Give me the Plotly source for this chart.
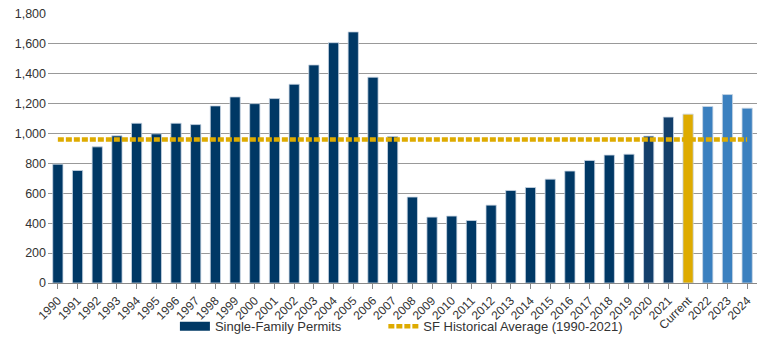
import plotly.graph_objects as go

categories = [str(y) for y in range(1990, 2022)] + ["Current", "2022", "2023", "2024"]
permits = [795, 753, 911, 985, 1069, 998, 1069, 1060, 1185, 1245,
           1200, 1234, 1330, 1459, 1608, 1680, 1377, 980, 575, 441,
           448, 418, 521, 619, 639, 695, 749, 820, 856, 862,
           983, 1110, 1130, 1181, 1261, 1170]
historical_average = 960

NAVY = "#003865"
NAVY2 = "#133f6b"
GOLD = "#deab00"
BLUE = "#3b80bf"

bar_colors = []
for c in categories:
    if c in ("2020", "2021"):
        bar_colors.append(NAVY2)
    elif c == "Current":
        bar_colors.append(GOLD)
    elif c in ("2022", "2023", "2024"):
        bar_colors.append(BLUE)
    else:
        bar_colors.append(NAVY)

fig = go.Figure()
fig.add_trace(go.Bar(
    x=categories, y=permits, marker=dict(color=bar_colors, line=dict(color="#c9d6e3", width=0.8)),
    width=0.52, showlegend=False, name="Single-Family Permits"))
# legend entry for bars
fig.add_trace(go.Scatter(
    x=[None], y=[None], mode="lines", line=dict(color=NAVY, width=9),
    name="Single-Family Permits", legend="legend"))
fig.add_trace(go.Scatter(
    x=[categories[0], categories[-1]], y=[historical_average, historical_average],
    mode="lines", line=dict(color=GOLD, width=4.5, dash="6px,2px"),
    name="SF Historical Average (1990-2021)", legend="legend2"))

leg_common = dict(orientation="h", xanchor="left", y=-0.105, yanchor="top",
                  font=dict(size=13, color="#333333"), bgcolor="rgba(0,0,0,0)")

fig.update_layout(
    width=770, height=351,
    margin=dict(l=48, r=13, t=14, b=68, autoexpand=False),
    paper_bgcolor="white", plot_bgcolor="white",
    font=dict(family="Liberation Sans, Arial, sans-serif", size=12, color="#333333"),
    bargap=0.48,
    legend=dict(x=0.179, **leg_common),
    legend2=dict(x=0.473, **leg_common),
    xaxis=dict(type="category", tickangle=-45, showgrid=False, showline=True,
               linecolor="#888888", linewidth=1, ticks="outside", ticklen=5,
               tickcolor="#888888", tickfont=dict(size=12, color="#333333"),
               range=[-0.5, len(categories) - 0.5], automargin=False),
    yaxis=dict(range=[0, 1800], dtick=200, tickformat=",d", showgrid=True,
               gridcolor="#999999", gridwidth=1, zeroline=False, showline=False,
               ticks="", ticklabelstandoff=1,
               tickfont=dict(size=12.5, color="#333333"), automargin=False),
)

fig.write_html("out.html")
